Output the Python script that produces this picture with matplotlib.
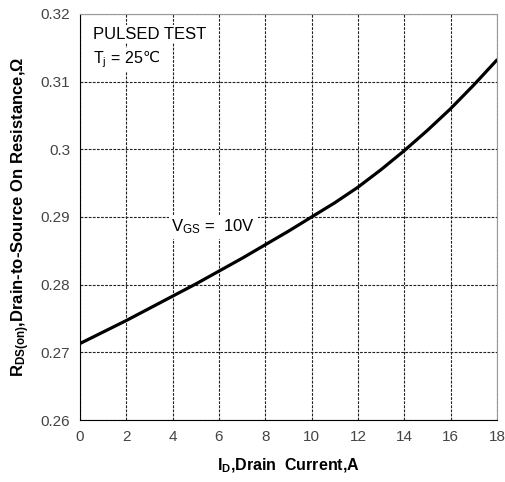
import matplotlib
matplotlib.use("Agg")
import matplotlib.pyplot as plt

plt.rcParams['font.family'] = ['Liberation Sans', 'DejaVu Sans']
plt.rcParams['mathtext.fontset'] = 'custom'
plt.rcParams['mathtext.rm'] = 'Liberation Sans'
plt.rcParams['mathtext.it'] = 'Liberation Sans'
plt.rcParams['mathtext.bf'] = 'Liberation Sans:bold'

# values
drain_current = [0, 1, 2, 3, 4, 5, 6, 7, 8, 9, 10, 11, 12, 13, 14, 15, 16, 17, 18]
r_ds_on = [0.2713, 0.2730, 0.2747, 0.2765, 0.2783, 0.2801, 0.2820, 0.2839, 0.2859, 0.2879,
           0.2900, 0.2921, 0.2944, 0.2970, 0.2998, 0.3028, 0.3060, 0.3095, 0.3132]

x_ticks = [0, 2, 4, 6, 8, 10, 12, 14, 16, 18]
y_ticks = [0.26, 0.27, 0.28, 0.29, 0.3, 0.31, 0.32]
y_tick_labels = ["0.26", "0.27", "0.28", "0.29", "0.3", "0.31", "0.32"]

fig = plt.figure(figsize=(5.06, 4.82), dpi=100)
ax = fig.add_axes([0.158, 0.1286, 0.824, 0.8424])

ax.plot(drain_current, r_ds_on, color="black", lw=2.3, solid_capstyle="round", solid_joinstyle="round")

ax.set_xlim(0, 18)
ax.set_ylim(0.26, 0.32)
ax.set_xticks(x_ticks)
ax.set_yticks(y_ticks)
ax.set_yticklabels(y_tick_labels)
ax.tick_params(length=0, labelsize=11, labelcolor="#444444", pad=7)
ax.grid(True, color="#222222", linestyle=(0, (2.5, 1.2)), lw=0.8)

for side in ["top", "right"]:
    ax.spines[side].set_color("#999999")
for side in ["left", "bottom"]:
    ax.spines[side].set_color("black")

ax.set_xlabel(r"I$_\mathbf{D}$,Drain  Current,A", fontsize=11.5, fontweight="bold", labelpad=9)
ax.set_ylabel(r"R$_\mathbf{DS(on)}$,Drain-to-Source On Resistance,$\mathbf{\Omega}$",
              fontsize=12, fontweight="bold", labelpad=6)

box = dict(facecolor="white", edgecolor="none", pad=1)
ax.text(0.55, 0.3170, "PULSED TEST", fontsize=12, va="center", ha="left", bbox=box)
tj = ax.text(0.55, 0.3133, r"T$_\mathrm{j}$ = 25", fontsize=11.5, va="center", ha="left", bbox=box)
ax.annotate("℃", xy=(1.0, 0.5), xycoords=tj, xytext=(0, 1.5), textcoords="offset points",
            va="center", ha="left", fontsize=11, family=["DejaVu Sans"])
ax.text(3.95, 0.2885, r"V$_\mathrm{GS}$ =  10V", fontsize=12, va="center", ha="left",
        bbox=dict(facecolor="white", edgecolor="none", pad=2))

fig.savefig("out.png", dpi=100)
